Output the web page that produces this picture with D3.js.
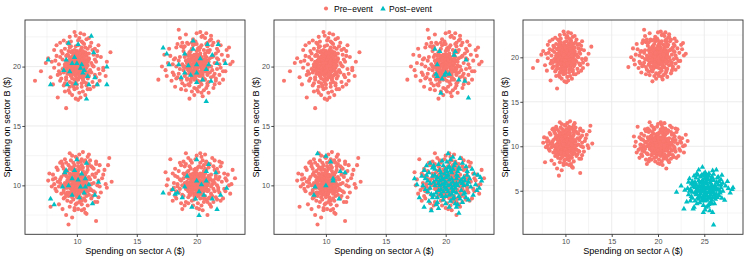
<!DOCTYPE html>
<html><head><meta charset="utf-8">
<script src="https://cdn.jsdelivr.net/npm/d3@7"></script>
<style>body{margin:0;background:#fff}svg{display:block;font-family:"Liberation Sans",Arial,sans-serif}</style>
</head><body><svg id="c" width="747" height="260"></svg>
<script>
// ---- data ----
const legendLabels = ["Pre\u2212event", "Post\u2212event"];
const xTitle = "Spending on sector A ($)";
const yTitle = "Spending on sector B ($)";
const ticksAB = [10, 15, 20];
const ticks3x = [10, 15, 20, 25];
const ticks3y = [5, 10, 15, 20];

const preNW = [[10.3,20.6],[9.2,19.4],[11.2,20.3],[9.8,21.1],[10.6,19.7],[8.5,20.2],[10.1,18.9],[9.6,20.8],[10.9,21.5],[8.9,19.5],
[10.0,20.1],[10.5,22.0],[9.3,20.5],[11.8,19.8],[9.7,18.4],[10.2,19.6],[8.7,21.3],[10.8,20.9],[9.9,19.9],[10.4,18.6],
[9.4,21.6],[11.0,19.2],[7.9,20.4],[10.3,21.4],[9.1,18.9],[10.7,20.0],[10.1,20.4],[9.5,19.2],[11.4,21.0],[9.8,20.3],
[10.6,21.9],[9.0,20.0],[10.2,17.8],[9.6,19.0],[12.2,19.9],[9.2,21.0],[10.5,20.6],[9.9,21.7],[8.4,19.3],[10.9,19.5],
[10.2,22.4],[9.7,20.7],[11.3,18.7],[8.8,20.6],[10.4,19.3],[9.5,22.1],[11.6,20.4],[10.0,19.0],[9.3,19.8],[10.7,21.2],
[9.1,20.9],[10.8,18.4],[9.8,18.1],[11.1,21.7],[8.3,21.8],[10.3,19.1],[9.6,21.3],[10.0,20.5],[12.5,20.4],[9.4,18.3],
[10.6,20.1],[8.6,18.8],[11.5,19.3],[9.9,22.6],[10.2,20.2],[9.0,21.5],[10.9,18.1],[7.0,19.6],[10.4,21.1],[9.7,19.5],
[11.0,20.7],[9.2,20.2],[10.1,21.8],[8.1,19.9],[10.5,19.0],[9.6,17.6],[11.7,21.3],[10.3,19.8],[9.4,20.6],[10.8,22.3],
[9.9,19.4],[10.7,19.8],[8.9,22.2],[10.2,21.0],[11.9,18.8],[9.5,20.0],[10.4,20.8],[9.1,19.1],[10.0,18.5],[11.3,20.1],
[9.7,20.9],[6.5,18.8],[10.6,18.7],[9.3,21.9],[10.9,20.4],[8.6,20.8],[10.1,19.5],[11.2,22.0],[9.8,18.9],[10.4,21.6],
[9.1,16.5],[10.3,22.8],[8.4,17.4],[12.2,19.7],[9.5,20.4],[10.8,19.4],[9.0,19.7],[11.4,18.3],[10.0,21.3],[9.6,18.6],
[10.5,17.9],[8.2,20.5],[11.1,19.7],[9.8,20.0],[10.3,20.3],[9.4,22.5],[11.7,20.9],[8.7,19.0],[10.7,21.6],[9.9,17.3],
[10.2,19.2],[9.1,20.4],[11.0,20.6],[8.0,18.5],[10.6,22.7],[9.5,21.2],[10.4,18.3],[11.8,21.8],[9.3,18.0],[10.0,20.9],
[7.6,20.7],[10.8,20.2],[9.7,19.7],[11.5,20.6],[9.0,17.9],[10.1,22.2],[8.8,21.1],[10.5,18.9],[12.0,20.8],[9.6,20.1],
[10.3,17.4],[9.2,22.0],[10.9,19.0],[8.5,19.6],[11.3,21.4],[10.0,19.7],[9.4,19.5],[10.7,17.6],[9.8,21.4],[11.6,19.1],
[9.0,20.2],[10.4,20.0],[8.3,20.9],[10.6,21.0],[9.7,18.3],[11.1,18.1],[9.5,21.7],[10.2,19.4],[8.9,18.4],[10.8,21.1],
[12.8,21.2],[9.9,20.6],[10.1,17.2],[9.3,20.9],[11.2,19.5],[8.6,22.0],[10.5,21.3],[9.6,19.3],[11.0,22.4],[7.8,19.1],
[10.3,20.8],[9.4,18.7],[10.7,19.3],[8.1,21.4],[11.4,20.0],[9.8,22.9],[10.0,18.2],[9.2,19.9],[10.9,20.5],[11.9,19.4],
[9.5,19.8],[10.6,19.2],[8.8,19.8],[10.2,21.2],[9.0,18.6],[11.5,21.5],[10.4,22.1],[7.4,20.3],[9.7,20.4],[10.8,18.6],
[9.3,21.3],[10.1,20.7],[11.7,18.5],[8.6,19.4],[10.5,20.5],[9.9,18.7],[12.4,19.2],[9.4,17.8],[10.3,19.9],[11.0,21.1],
[10.1,20.2],[9.7,19.8],[10.4,20.5],[9.5,20.1],[10.2,19.6],[9.9,20.7],[10.6,20.3],[9.8,19.5],[10.3,19.9],[9.6,20.4],
[10.0,19.8],[10.5,19.6],[9.4,19.9],[10.7,20.6],[9.9,20.9],[10.2,20.0],[9.7,20.2],[10.8,19.9],[9.3,20.3],[10.1,19.4],
[10.4,20.8],[9.6,19.6],[10.0,20.4],[10.9,20.1],[9.8,20.0],[10.3,20.3],[9.5,20.7],[10.6,19.9],[9.2,19.7],[10.1,20.6],
[9.9,19.2],[10.5,20.2],[9.7,21.0],[10.3,19.5],[9.4,20.5],[10.7,19.7],[10.0,20.0],[9.8,20.6],[10.4,19.8],[9.6,19.9],
[10.2,20.8],[9.3,19.4],[10.8,20.4],[9.9,19.7],[10.5,20.9],[9.5,19.3],[10.1,20.0],[10.6,20.7],[9.7,20.5],[10.3,20.1],
[9.1,20.1],[10.0,19.6],[10.9,19.5],[9.8,20.3],[10.4,20.3],[9.6,20.8],[10.2,19.3],[10.7,20.2],[9.4,20.0],[10.0,21.1]];

const preNE = [[20.4,19.7],[19.1,20.5],[21.0,21.2],[19.8,18.9],[20.7,20.3],[18.6,19.8],[20.2,21.6],[19.5,20.1],[21.5,19.4],[20.0,20.8],
[19.3,21.9],[20.9,18.6],[18.2,20.7],[20.5,19.2],[19.7,22.3],[21.8,20.6],[20.1,19.5],[19.0,18.4],[20.6,21.4],[21.2,20.0],
[16.8,18.9],[18.5,23.1],[22.8,20.2],[19.4,17.3],[20.3,22.9],[19.9,20.3],[20.8,19.9],[18.9,21.3],[21.4,18.2],[20.2,20.9],
[19.6,19.1],[22.1,21.0],[18.0,19.5],[20.4,17.8],[19.2,22.0],[21.1,22.2],[20.0,19.8],[19.4,20.6],[20.7,18.9],[17.6,20.3],
[20.9,21.7],[19.8,21.0],[21.6,19.0],[18.7,18.1],[20.3,20.4],[19.1,19.4],[22.4,19.6],[20.5,22.6],[19.5,18.7],[20.1,20.0],
[21.3,20.8],[18.3,21.6],[20.6,20.1],[19.7,19.6],[17.9,18.8],[20.8,21.9],[19.3,20.9],[21.9,18.6],[20.2,18.3],[19.0,20.0],
[20.5,19.4],[21.7,21.5],[18.8,20.2],[20.0,21.3],[19.6,17.9],[22.6,20.9],[19.9,22.1],[20.9,20.5],[18.4,19.1],[21.2,19.1],
[19.4,21.2],[20.3,18.7],[17.3,21.0],[20.7,22.4],[19.2,19.0],[21.5,20.3],[20.1,21.0],[18.6,22.4],[22.0,19.9],[19.8,18.2],
[20.6,20.6],[19.0,21.7],[21.0,17.8],[18.1,19.3],[20.4,21.8],[19.5,19.9],[21.8,21.3],[20.2,19.2],[17.8,20.9],[20.9,18.4],
[19.3,18.5],[21.4,22.0],[20.0,20.4],[18.9,19.7],[22.3,20.5],[19.7,20.9],[20.5,17.5],[21.1,19.5],[19.1,22.7],[20.3,21.1],
[18.5,20.5],[20.8,20.8],[19.6,21.5],[21.6,18.8],[20.1,18.8],[17.5,19.2],[20.7,19.6],[19.9,19.0],[21.3,21.8],[18.8,18.6],
[20.4,22.5],[19.2,20.3],[22.5,21.4],[20.0,18.1],[18.3,20.0],[21.0,20.4],[19.7,21.8],[20.6,19.0],[19.4,20.4],[21.9,20.2],
[18.7,21.7],[20.2,20.2],[21.2,22.6],[19.0,19.2],[20.9,19.3],[17.1,20.0],[20.4,20.7],[19.8,17.6],[21.7,19.8],[18.2,18.3],
[20.1,21.5],[19.5,18.9],[21.4,20.9],[18.6,20.8],[20.7,21.1],[19.3,19.8],[22.2,18.9],[20.0,22.8],[19.8,20.5],[21.0,18.7],
[18.4,21.9],[20.5,20.0],[19.1,18.0],[21.8,22.1],[20.3,19.5],[19.6,22.0],[23.0,20.4],[20.8,18.2],[18.9,20.0],[20.2,21.4],
[19.9,19.3],[21.1,21.4],[17.7,21.5],[20.6,20.4],[19.4,21.1],[21.5,18.5],[20.0,20.6],[18.1,20.6],[22.0,21.8],[19.2,18.9],
[20.9,22.0],[19.7,19.4],[21.3,19.7],[18.8,22.0],[20.4,18.5],[19.0,20.8],[21.7,20.7],[20.1,17.9],[19.5,21.3],[20.7,20.9],
[18.0,20.2],[20.3,21.6],[21.9,19.3],[19.3,20.2],[20.6,18.0],[22.7,21.6],[19.8,19.9],[20.9,21.3],[18.5,19.4],[21.2,22.3],
[19.6,20.7],[20.5,18.9],[17.4,19.7],[21.0,20.1],[19.1,21.0],[20.8,22.8],[18.7,18.9],[21.4,19.2],[20.2,20.5],[19.9,21.9],
[20.4,19.9],[18.3,19.0],[21.6,21.1],[19.4,18.4],[20.0,21.9],[22.2,19.6],[19.7,20.2],[20.8,19.7],[18.9,21.6],[21.1,20.7],
[20.2,20.1],[19.8,19.7],[20.5,20.4],[19.6,20.2],[20.1,19.5],[20.0,20.8],[20.7,20.2],[19.7,19.6],[20.4,20.0],[19.5,20.5],
[20.1,19.9],[20.6,19.7],[19.3,20.0],[20.8,20.5],[19.9,21.0],[20.3,20.1],[19.8,20.3],[20.9,19.8],[19.4,20.2],[20.0,19.3],
[20.3,20.7],[19.5,19.8],[20.1,20.3],[21.0,20.0],[19.7,20.1],[20.4,20.4],[19.6,20.8],[20.5,19.8],[19.1,19.9],[20.2,20.6],
[19.8,19.1],[20.6,20.2],[19.9,20.9],[20.2,19.4],[19.3,20.6],[20.8,19.6],[20.0,20.1],[19.7,20.7],[20.5,19.9],[19.5,19.5],
[20.3,20.9],[19.4,19.4],[20.7,20.5],[19.9,19.8],[20.4,20.8],[19.6,19.2],[20.0,20.0],[20.7,20.6],[19.8,20.4],[20.2,20.0],
[19.2,20.3],[20.1,19.6],[20.9,19.4],[19.7,20.5],[20.3,20.2],[19.5,20.9],[20.4,19.2],[20.6,20.3],[19.3,19.7],[20.1,21.0]];

const preSW = [[10.2,10.4],[9.3,6.7],[9.4,12.7],[12.7,12.3],[7.7,11.0],[7.8,8.2],[11.6,7.0],[12.9,10.3],[10.6,9.6],[9.7,10.9],
[10.9,11.3],[9.1,9.8],[10.4,8.7],[8.6,10.5],[11.2,10.1],[9.8,11.7],[10.1,9.2],[8.9,8.9],[11.6,11.0],[10.0,10.0],
[9.5,10.6],[10.7,12.1],[8.2,9.7],[10.3,9.0],[11.4,9.5],[9.2,11.2],[10.5,10.8],[9.9,8.4],[12.1,10.6],[8.8,11.6],
[10.8,9.1],[9.6,9.5],[11.0,11.8],[8.4,10.3],[10.2,11.4],[9.0,12.2],[11.8,9.0],[10.4,10.2],[9.4,8.2],[10.0,9.7],
[11.3,10.9],[9.7,11.0],[8.0,10.9],[10.6,8.0],[9.3,9.1],[10.9,12.4],[9.8,10.3],[11.5,8.6],[10.1,11.9],[8.7,9.3],
[10.4,9.9],[9.1,10.8],[11.1,10.5],[9.6,12.5],[10.7,9.4],[8.5,8.4],[10.0,11.1],[12.3,11.3],[9.4,9.8],[10.2,8.6],
[9.9,10.7],[11.7,10.0],[8.9,11.4],[10.5,11.5],[9.2,8.7],[10.8,10.4],[8.1,10.1],[10.3,12.0],[11.2,8.9],[9.7,9.2],
[10.1,10.3],[9.0,10.2],[11.9,11.7],[10.6,11.0],[8.6,11.9],[9.8,7.9],[10.4,9.5],[11.4,11.4],[9.5,11.5],[10.9,8.3],
[8.3,9.5],[10.0,10.6],[9.3,10.5],[11.1,9.7],[10.7,7.7],[9.6,9.0],[12.5,9.8],[10.2,12.6],[8.8,10.0],[10.5,10.0],
[9.9,11.3],[11.6,12.0],[9.1,7.5],[10.3,10.7],[8.4,11.3],[10.8,11.9],[9.4,10.0],[11.0,9.2],[10.1,8.0],[9.7,11.9],
[10.6,10.5],[8.9,9.6],[11.3,11.5],[9.5,8.6],[10.0,12.3],[12.0,9.4],[9.2,10.4],[10.4,11.7],[8.7,12.0],[10.9,10.1],
[9.8,9.4],[10.2,9.9],[11.5,10.7],[8.2,10.6],[10.7,8.7],[9.6,11.3],[10.0,8.5],[11.8,10.4],[9.0,9.0],[10.5,12.8],
[9.4,11.0],[10.8,9.8],[7.9,9.9],[10.3,10.0],[11.2,11.6],[9.7,10.1],[10.6,9.3],[8.9,10.9],[12.2,10.9],[10.1,11.6],
[9.1,9.2],[10.4,12.2],[9.9,9.6],[11.0,10.7],[8.5,9.9],[10.2,10.9],[11.7,8.6],[9.5,12.1],[10.8,7.6],[9.3,11.7],
[10.7,10.9],[8.8,8.0],[10.0,9.0],[11.4,10.2],[9.6,10.6],[10.5,11.2],[9.0,11.1],[12.6,11.7],[10.3,8.8],[9.8,10.5],
[11.1,12.1],[9.2,9.4],[10.6,10.2],[8.3,11.5],[10.9,9.5],[9.7,8.8],[10.1,10.8],[11.9,9.9],[9.4,10.7],[10.4,7.9],
[8.6,10.2],[10.8,11.1],[9.9,12.4],[11.3,9.1],[10.2,9.3],[9.0,10.0],[10.5,10.5],[11.6,11.8],[9.5,9.7],[7.6,10.4],
[10.3,11.4],[9.8,8.1],[11.0,10.0],[8.8,11.8],[10.6,12.0],[9.3,9.9],[12.4,10.1],[10.0,10.8],[9.6,7.3],[10.9,11.6],
[9.2,10.7],[11.2,9.6],[10.4,8.4],[8.9,9.4],[10.1,11.2],[9.7,11.5],[11.5,9.4],[10.7,10.6],[8.0,10.5],[10.3,9.5],
[9.9,10.1],[10.6,8.9],[9.4,11.4],[11.8,11.2],[8.7,10.7],[10.2,10.2],[11.0,12.6],[9.1,11.9],[10.5,9.7],[9.6,10.4],
[10.1,10.1],[9.8,9.8],[10.4,10.4],[9.6,10.1],[10.2,9.6],[9.9,10.7],[10.6,10.2],[9.7,9.5],[10.3,9.9],[9.5,10.4],
[10.0,9.8],[10.5,9.7],[9.4,10.0],[10.7,10.6],[10.0,10.9],[10.2,10.1],[9.8,10.3],[10.8,9.9],[9.3,10.2],[10.1,9.4],
[10.4,10.8],[9.6,9.7],[10.0,10.4],[10.9,10.0],[9.7,10.0],[10.3,10.3],[9.5,10.7],[10.6,9.8],[9.2,9.8],[10.1,10.6],
[9.9,9.2],[10.5,10.2],[9.7,11.0],[10.3,9.5],[9.4,10.5],[10.7,9.7],[10.0,10.0],[9.8,10.6],[10.4,9.8],[9.6,9.9],
[10.2,10.8],[9.3,9.4],[10.8,10.4],[9.9,9.7],[10.5,10.9],[9.5,9.3],[10.1,10.0],[10.6,10.7],[9.7,10.5],[10.3,10.1],
[9.1,10.1],[10.0,9.6],[10.9,9.5],[9.8,10.2],[10.4,10.3],[9.6,10.8],[10.2,9.3],[10.7,10.2],[9.4,9.9],[10.0,11.1]];

const preSE = [[20.3,10.2],[17.8,12.2],[19.1,12.7],[20.3,12.7],[23.2,10.6],[20.9,7.5],[17.4,11.1],[19.6,9.6],[21.0,10.8],[20.1,9.1],
[18.7,10.4],[21.4,9.7],[19.8,11.3],[20.6,8.6],[19.2,9.9],[21.8,11.1],[20.0,10.5],[18.3,8.9],[20.8,12.0],[19.5,10.9],
[21.2,9.3],[19.0,11.6],[20.4,10.0],[22.1,10.3],[18.9,9.1],[20.7,11.4],[19.7,8.3],[21.5,12.1],[20.2,9.8],[18.1,10.2],
[20.5,11.0],[19.3,10.6],[21.7,8.8],[20.0,9.4],[18.6,11.9],[21.1,10.5],[19.9,12.2],[22.4,9.5],[20.3,8.9],[19.4,9.2],
[20.9,11.8],[18.4,10.7],[21.3,10.1],[19.6,10.1],[20.6,9.5],[17.9,9.6],[20.1,11.5],[22.0,11.6],[19.1,8.6],[20.8,9.9],
[19.7,11.0],[21.6,9.0],[20.4,12.4],[18.8,10.0],[20.0,8.1],[21.9,10.7],[19.3,11.2],[20.7,10.4],[18.2,11.4],[21.1,8.4],
[20.2,10.7],[19.5,9.3],[22.6,10.9],[20.9,10.3],[18.5,9.4],[21.4,11.6],[19.8,10.2],[20.5,7.9],[19.0,10.9],[21.8,9.8],
[20.1,9.7],[18.9,12.0],[21.0,9.6],[19.6,11.9],[22.3,11.0],[20.4,10.9],[17.6,10.5],[20.8,8.8],[19.2,10.3],[21.3,12.3],
[19.9,9.0],[20.6,11.2],[18.0,8.7],[21.5,10.2],[20.3,11.9],[19.4,10.8],[22.8,9.3],[20.0,9.9],[18.7,11.7],[21.2,10.9],
[19.1,9.7],[20.7,12.6],[21.9,9.4],[19.8,8.8],[20.2,10.4],[18.4,9.9],[21.6,10.6],[20.5,9.2],[19.3,12.3],[22.2,8.9],
[20.9,9.5],[19.6,10.4],[18.2,10.8],[21.1,11.8],[20.0,10.9],[19.0,8.3],[21.7,10.0],[20.4,8.3],[18.8,9.2],[20.6,10.1],
[22.5,10.4],[19.5,11.4],[20.1,8.5],[21.3,9.1],[18.6,10.5],[20.8,11.3],[19.7,9.9],[23.0,11.3],[20.3,9.4],[19.2,11.1],
[21.0,10.2],[17.5,10.0],[20.6,11.7],[19.8,9.1],[21.4,8.6],[20.0,12.5],[18.9,10.6],[22.1,11.9],[20.2,8.0],[19.4,9.5],
[20.7,9.7],[21.8,10.5],[19.1,10.1],[20.4,11.5],[18.3,9.5],[21.2,9.9],[19.9,11.1],[20.5,10.7],[22.7,10.0],[19.6,8.7],
[18.5,11.2],[20.9,10.0],[19.3,9.0],[21.5,11.3],[20.1,10.3],[19.0,10.2],[21.9,12.0],[20.6,8.9],[18.1,9.8],[20.3,11.0],
[19.8,10.6],[21.1,9.0],[20.0,9.6],[18.7,8.5],[21.6,10.8],[19.5,12.1],[20.8,10.6],[22.4,10.6],[19.2,10.7],[20.4,9.6],
[21.3,10.4],[18.9,11.0],[20.7,9.1],[19.6,9.8],[22.0,8.7],[20.2,11.6],[17.7,9.3],[21.0,11.5],[19.9,10.0],[20.5,12.1],
[18.4,10.1],[21.7,11.4],[20.1,9.3],[19.4,11.6],[20.9,8.6],[22.9,10.1],[19.7,10.5],[20.6,10.4],[18.8,8.0],[21.4,10.4],
[20.3,9.5],[19.1,11.8],[21.2,8.2],[20.0,11.3],[18.2,9.1],[21.8,9.6],[19.5,10.0],[20.8,11.9],[22.3,9.7],[19.8,9.3],
[20.6,10.8],[18.6,9.7],[21.1,10.6],[19.3,8.5],[20.2,9.9],[21.5,9.5],[19.9,11.4],[20.7,11.0],[18.0,11.0],[21.0,8.9],
[20.1,10.0],[19.8,9.7],[20.4,10.3],[19.6,10.0],[20.2,9.6],[19.9,10.8],[20.6,10.1],[19.7,9.6],[20.3,10.0],[19.5,10.3],
[20.0,9.9],[20.5,9.6],[19.4,10.1],[20.7,10.5],[19.9,10.9],[20.2,10.2],[19.8,10.4],[20.8,9.8],[19.3,10.1],[20.1,9.3],
[20.4,10.7],[19.6,9.8],[20.0,10.3],[20.9,10.1],[19.7,10.1],[20.3,10.4],[19.5,10.6],[20.6,9.9],[19.2,9.7],[20.1,10.6],
[19.9,9.3],[20.5,10.1],[19.7,10.9],[20.3,9.4],[19.4,10.6],[20.7,9.8],[20.0,10.0],[19.8,10.7],[20.4,9.9],[19.6,9.4],
[20.2,10.9],[19.3,9.5],[20.8,10.3],[19.9,9.8],[20.5,10.8],[19.5,9.2],[20.1,10.1],[20.6,10.6],[19.7,10.4],[20.3,9.8],
[19.1,10.0],[20.0,9.5],[20.9,9.6],[19.8,10.1],[20.4,10.2],[19.6,10.7],[20.2,9.2],[20.7,10.1],[19.4,9.8],[20.0,11.0]];

// panel 1 post-event
const post1NW = [[7.6,20.6],[7.8,18.5],[9.3,22.0],[11.2,22.6],[10.1,21.9],[11.4,21.2],[12.5,20.0],[12.5,18.5],[10.8,17.3],[11.7,18.5],
[8.9,19.7],[9.6,20.3],[10.0,20.3],[10.4,20.2],[9.2,18.5],[9.9,18.6],[11.0,18.5],[11.5,19.1],[9.4,19.6],[10.5,19.5],
[9.8,20.8],[10.6,19.7],[10.9,19.2],[10.3,19.9],[9.1,20.6]];
const post1NE = [[17.2,21.6],[17.5,21.1],[17.7,20.2],[21.8,21.9],[20.9,21.9],[20.8,17.1],[19.7,22.2],[19.0,21.1],[18.5,20.2],[19.3,20.1],
[20.0,20.2],[21.0,20.2],[21.7,20.3],[22.4,20.3],[19.0,19.5],[20.0,19.5],[20.8,19.8],[18.7,19.1],[20.0,18.7],[20.5,18.9],
[21.2,18.8],[19.5,19.3],[20.3,20.7],[19.7,21.5],[21.3,21.0]];
const post1SW = [[10.0,12.2],[10.8,11.9],[9.1,11.3],[7.8,8.9],[8.1,8.4],[10.4,11.0],[9.6,10.6],[10.1,10.5],[10.7,10.6],[11.8,10.3],
[11.5,9.2],[11.3,8.5],[10.2,9.0],[9.6,9.2],[8.8,9.9],[9.3,10.0],[10.7,9.9],[11.0,10.1],[9.0,11.1],[9.8,11.3],[10.3,9.9],[10.6,9.4]];
const post1SE = [[17.2,9.4],[18.0,9.7],[20.0,12.2],[21.0,11.8],[21.6,11.1],[20.2,7.5],[19.6,8.2],[21.7,8.0],[22.5,9.8],[22.0,9.2],
[18.4,9.4],[18.8,9.0],[19.2,10.8],[20.0,10.4],[20.4,10.1],[20.8,11.2],[19.0,9.9],[20.2,9.5],[20.6,9.2],[21.3,8.9],
[19.9,8.9],[18.2,9.3],[20.8,10.4]];

// panel 2 post-event
const post2NE = [[19.1,21.5],[19.5,21.3],[20.8,21.3],[20.7,21.0],[21.7,20.6],[19.3,20.2],[19.2,19.4],[19.3,19.2],[20.0,19.5],[20.3,19.4],
[19.7,19.0],[19.9,19.3],[21.1,18.9],[21.6,18.8],[19.6,17.8],[21.9,17.4]];
const post2SW = [[10.0,12.5],[9.3,12.7],[10.4,12.0],[11.2,11.2],[11.6,11.1],[10.6,10.4],[10.0,10.0],[9.1,9.9],[9.0,9.2],[11.1,8.9],[10.6,10.6]];
const post2SE = [[23.0,10.4],[22.8,9.8],[17.4,10.6],[17.8,9.0],[21.1,7.7],[21.2,12.3],[20.2,12.7],[18.8,7.9],[18.2,8.2],[20.4,10.1],
[19.6,9.7],[20.9,10.6],[19.1,10.9],[21.5,9.3],[20.0,11.4],[18.7,10.2],[20.6,8.9],[19.4,11.8],[21.8,10.9],[20.3,9.2],
[19.8,10.5],[21.2,11.4],[18.5,9.5],[20.7,10.0],[19.3,8.6],[22.1,9.9],[20.1,12.0],[19.0,10.3],[21.0,8.4],[20.5,11.1],
[18.9,11.5],[20.2,9.5],[21.6,10.4],[19.7,9.1],[20.8,11.9],[18.3,10.6],[21.3,9.6],[19.5,10.4],[20.0,8.5],[22.4,11.0],
[19.2,9.4],[20.6,10.3],[18.6,11.1],[21.0,10.8],[19.9,9.9],[21.9,8.8],[20.3,11.6],[19.4,8.1],[20.9,9.4],[18.1,10.0],
[20.4,12.2],[19.6,11.1],[21.4,10.2],[20.0,10.7],[18.8,9.3],[22.0,10.6],[19.1,10.0],[20.7,9.0],[21.7,11.6],[19.8,8.8],
[20.5,9.8],[18.4,11.7],[21.1,9.1],[19.3,10.7],[20.2,10.9],[22.6,9.6],[19.7,12.1],[20.9,10.2],[18.0,10.8],[21.5,10.7],
[19.9,10.2],[20.6,11.4],[19.0,9.2],[21.2,8.9],[20.1,9.7],[18.6,8.7],[21.8,10.1],[19.5,11.3],[20.8,8.5],[22.2,11.4],
[19.2,10.5],[20.3,10.5],[21.0,11.2],[18.9,10.8],[20.7,9.5],[19.6,9.3],[21.4,11.9],[20.0,9.1],[18.3,9.7],[22.9,10.7],
[20.4,8.7],[19.8,11.7],[21.6,9.4],[19.1,11.4],[20.9,10.9],[18.7,9.8],[20.2,10.0],[21.3,10.5],[19.4,9.6],[20.6,12.4],
[17.6,10.1],[21.9,10.3],[20.0,10.3],[19.7,10.6],[20.8,9.8],[18.5,10.4],[21.1,11.5],[19.3,9.0],[20.5,10.6],[22.5,10.1],
[19.9,11.0],[20.3,8.2],[18.2,11.3],[21.7,9.0],[20.1,11.2],[19.0,11.7],[21.4,8.6],[20.6,9.6],[19.6,10.8],[21.0,10.0],
[18.9,9.0],[20.4,11.3],[22.3,9.2],[19.5,10.0],[20.7,11.7],[18.4,10.9],[21.2,10.3],[20.0,9.8],[19.2,8.4],[21.8,11.2],
[20.9,8.2],[19.7,10.1],[20.2,11.5],[21.5,10.0],[18.7,11.9],[20.5,9.3],[19.4,10.2],[22.7,10.9],[20.1,10.8],[19.8,9.5]];

// panel 3 post-event
const post3 = [[22.0,4.9],[26.0,1.2],[24.8,7.7],[26.3,7.4],[28.1,5.4],[27.2,4.0],[22.5,5.6],[23.8,3.0],[23.1,3.8],[22.8,3.0],
[27.8,4.8],[28.0,5.2],[27.0,5.9],[24.9,2.6],[25.6,2.8],[25.9,2.6],[23.9,3.2],[25.2,5.3],[24.6,4.7],[25.7,5.9],
[24.3,5.5],[25.0,6.4],[26.1,4.6],[24.8,5.0],[25.4,4.2],[23.7,6.1],[26.5,5.7],[25.1,3.9],[24.0,4.8],[25.8,6.6],
[24.5,6.0],[26.2,5.1],[25.3,5.8],[23.5,5.2],[24.9,4.4],[26.8,6.3],[25.6,4.9],[24.2,3.6],[25.0,5.5],[26.0,6.9],
[24.7,6.8],[25.5,3.5],[23.9,5.9],[26.4,4.3],[25.2,6.1],[24.4,4.1],[25.9,5.4],[23.3,4.6],[24.8,5.7],[26.7,5.0],
[25.3,4.5],[24.1,6.5],[25.8,4.0],[24.6,5.2],[26.3,6.0],[23.6,4.4],[25.1,7.1],[24.9,3.4],[25.6,5.1],[27.3,5.6],
[24.4,5.0],[25.7,6.3],[23.8,5.5],[26.0,4.9],[25.0,4.6],[24.2,7.0],[26.6,4.5],[25.4,5.5],[24.7,3.9],[25.9,7.3],
[23.4,6.4],[25.1,4.8],[26.2,5.5],[24.5,4.5],[25.5,6.7],[24.0,5.4],[26.9,4.2],[25.2,3.2],[24.8,6.2],[25.8,5.0],
[24.3,4.2],[26.5,6.6],[25.0,5.9],[23.7,4.9],[25.6,4.4],[24.6,6.6],[26.1,3.6],[25.3,6.4],[24.1,5.7],[27.5,6.1],
[25.4,4.8],[24.9,5.6],[23.2,5.3],[26.3,5.3],[25.7,3.8],[24.4,6.2],[25.1,5.0],[26.8,5.4],[24.0,3.9],[25.9,4.3],
[24.7,4.9],[25.5,7.0],[23.6,5.8],[26.4,5.9],[25.0,4.1],[24.3,5.3],[26.0,6.2],[25.3,4.0],[24.8,5.3],[22.9,5.1],
[25.8,5.7],[24.5,3.7],[26.7,4.8],[25.2,6.8],[24.1,4.6],[25.6,6.0],[23.9,6.7],[26.2,4.1],[25.0,5.2],[24.6,5.9],
[27.0,5.0],[25.3,5.4],[24.2,5.1],[25.9,6.5],[24.8,4.3],[23.5,3.9],[26.5,5.2],[25.1,6.0],[24.4,7.4],[25.7,4.6],
[24.0,6.0],[26.1,5.6],[25.4,3.3],[24.7,5.5],[23.7,4.2],[25.6,5.4],[26.9,6.8],[25.0,4.4],[24.3,6.8],[25.8,3.6],
[25.2,4.6],[24.6,5.0],[26.3,4.7],[23.4,5.0],[25.5,5.0],[24.9,6.9],[26.6,6.1],[25.1,2.9],[24.1,5.0],[27.6,5.3],
[25.7,5.2],[24.4,4.4],[25.3,6.6],[26.0,5.3],[24.8,4.0],[23.8,5.7],[25.9,4.8],[24.5,5.6],[26.4,6.5],[25.0,6.7],
[24.2,4.7],[25.6,4.2],[26.8,5.7],[24.9,5.1],[25.4,6.3],[23.3,6.0],[26.2,4.4],[24.7,6.0],[25.1,4.2],[25.8,5.5]];

// ---- drawing ----
const colPre = "#F8766D", colPost = "#00BFC4";
const svg = d3.select("#c");
svg.append("rect").attr("width", 747).attr("height", 260).attr("fill", "#fff");

const pre = [...preNW, ...preNE, ...preSW, ...preSE];
const panels = [
  {dx: 0,   post: [...post1NW, ...post1NE, ...post1SW, ...post1SE], xt: ticksAB, yt: ticksAB},
  {dx: 249, post: [...post2NE, ...post2SW, ...post2SE], xt: ticksAB, yt: ticksAB},
  {dx: 498, post: post3, xt: ticks3x, yt: ticks3y}
];
const L = 25, R = 245, T = 20, B = 234.3;
const expand = e => { const r = e[1] - e[0]; return [e[0] - 0.05 * r, e[1] + 0.05 * r]; };
const minorOf = (t, dom) => {
  const step = t[1] - t[0], out = [];
  for (let v = t[0] - step / 2; v <= dom[1]; v += step) if (v >= dom[0]) out.push(v);
  return out;
};
const tri = d3.symbol().type(d3.symbolTriangle).size(13);

panels.forEach(p => {
  const all = pre.concat(p.post);
  const xd = expand(d3.extent(all, d => d[0])), yd = expand(d3.extent(all, d => d[1]));
  const x = d3.scaleLinear().domain(xd).range([L, R]);
  const y = d3.scaleLinear().domain(yd).range([B, T]);
  const g = svg.append("g").attr("transform", `translate(${p.dx},0)`);

  // grid
  const grid = g.append("g");
  minorOf(p.xt, xd).forEach(v => grid.append("line").attr("x1", x(v)).attr("x2", x(v)).attr("y1", T).attr("y2", B)
    .attr("stroke", "#EBEBEB").attr("stroke-width", 0.5));
  minorOf(p.yt, yd).forEach(v => grid.append("line").attr("y1", y(v)).attr("y2", y(v)).attr("x1", L).attr("x2", R)
    .attr("stroke", "#EBEBEB").attr("stroke-width", 0.5));
  p.xt.forEach(v => grid.append("line").attr("x1", x(v)).attr("x2", x(v)).attr("y1", T).attr("y2", B)
    .attr("stroke", "#EBEBEB").attr("stroke-width", 0.95));
  p.yt.forEach(v => grid.append("line").attr("y1", y(v)).attr("y2", y(v)).attr("x1", L).attr("x2", R)
    .attr("stroke", "#EBEBEB").attr("stroke-width", 0.95));

  // points
  g.append("g").selectAll("circle").data(pre).join("circle")
    .attr("cx", d => x(d[0])).attr("cy", d => y(d[1])).attr("r", 2.05).attr("fill", colPre);
  g.append("g").selectAll("path").data(p.post).join("path")
    .attr("d", tri).attr("transform", d => `translate(${x(d[0])},${y(d[1]) + 0.4})`).attr("fill", colPost);

  // border
  g.append("rect").attr("x", L).attr("y", T).attr("width", R - L).attr("height", B - T)
    .attr("fill", "none").attr("stroke", "#333").attr("stroke-width", 0.9);

  // axes
  const ax = g.append("g").attr("transform", `translate(0,${B})`)
    .call(d3.axisBottom(x).tickValues(p.xt).tickSize(2.7).tickPadding(1.4));
  const ay = g.append("g").attr("transform", `translate(${L},0)`)
    .call(d3.axisLeft(y).tickValues(p.yt).tickSize(2.7).tickPadding(1.4));
  [ax, ay].forEach(a => {
    a.select(".domain").remove();
    a.selectAll(".tick line").attr("stroke", "#333").attr("stroke-width", 0.9);
    a.selectAll(".tick text").attr("fill", "#4D4D4D").attr("font-size", "7.2px")
      .attr("font-family", '"Liberation Sans",Arial,sans-serif');
  });

  // titles
  g.append("text").attr("x", (L + R) / 2).attr("y", 254.3).attr("text-anchor", "middle")
    .attr("font-size", "9.1px").attr("fill", "#000").text(xTitle);
  g.append("text").attr("transform", `translate(10,${(T + B) / 2}) rotate(-90)`).attr("text-anchor", "middle")
    .attr("font-size", "9.1px").attr("fill", "#000").text(yTitle);
});

// legend
const lg = svg.append("g");
lg.append("circle").attr("cx", 326).attr("cy", 8.5).attr("r", 2.05).attr("fill", colPre);
lg.append("text").attr("x", 334).attr("y", 11.5).attr("font-size", "8.5px").attr("fill", "#000").text(legendLabels[0]);
lg.append("path").attr("d", tri).attr("transform", "translate(383,8.9)").attr("fill", colPost);
lg.append("text").attr("x", 389).attr("y", 11.5).attr("font-size", "8.5px").attr("fill", "#000").text(legendLabels[1]);
</script>
</body></html>
